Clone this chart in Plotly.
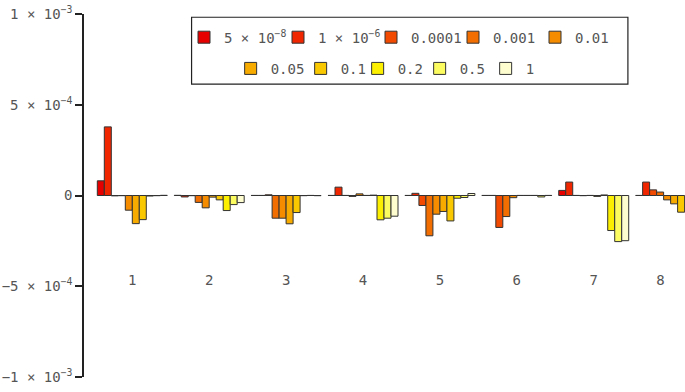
import plotly.graph_objects as go

# ---- data ----
groups = [1, 2, 3, 4, 5, 6, 7, 8]
group_labels = ["1", "2", "3", "4", "5", "6", "7", "8"]

series_names = ["5 × 10<sup>−8</sup>", "1 × 10<sup>−6</sup>", "0.0001", "0.001", "0.01",
                "0.05", "0.1", "0.2", "0.5", "1"]

s_5e8 = [8.1e-5, 1e-6, 0.5e-6, 0.5e-6, 0.5e-6, 0.5e-6, 2.8e-5, 0.5e-6]
s_1e6 = [3.78e-4, -8e-6, 0.5e-6, 4.6e-5, 1.2e-5, 0.5e-6, 7.4e-5, 7.4e-5]
s_1e4 = [-2e-6, -1e-6, 4e-6, 0.5e-6, -5.5e-5, -1.76e-4, 0.5e-6, 3.1e-5]
s_1e3 = [-1e-6, -3.8e-5, -1.25e-4, -5e-6, -2.22e-4, -1.16e-4, -1e-6, 1.9e-5]
s_1e2 = [-8.1e-5, -6.8e-5, -1.25e-4, 9e-6, -1.03e-4, -1.2e-5, 0.5e-6, -2.4e-5]
s_5e2 = [-1.55e-4, -9e-6, -1.56e-4, 0.5e-6, -8.8e-5, 0.5e-6, -5e-6, -4.6e-5]
s_1e1 = [-1.33e-4, -2.4e-5, -9.4e-5, 2e-6, -1.4e-4, 0.5e-6, 3e-6, -9.2e-5]
s_2e1 = [-3e-6, -8.3e-5, -1e-6, -1.34e-4, -1.5e-5, 0.5e-6, -1.93e-4, None]
s_5e1 = [-1e-6, -5e-5, 0.5e-6, -1.25e-4, -1.1e-5, -8e-6, -2.54e-4, None]
s_1 = [1e-6, -3.9e-5, -1e-6, -1.14e-4, 1.1e-5, 0.5e-6, -2.49e-4, None]

series_values = [s_5e8, s_1e6, s_1e4, s_1e3, s_1e2, s_5e2, s_1e1, s_2e1, s_5e1, s_1]

y_tick_vals = [-1e-3, -5e-4, 0, 5e-4, 1e-3]
y_tick_text = ["−1 × 10<sup>−3</sup>", "−5 × 10<sup>−4</sup>", "0",
               "5 × 10<sup>−4</sup>", "1 × 10<sup>−3</sup>"]

# ---- styling ----
colors = ['#e60000', '#f02600', '#f24a00', '#f26e00', '#f58c00',
          '#f7aa00', '#fac800', '#fcf000', '#fcfc60', '#fdfdd0']
legend_widths = [49, 48, 37, 37, 30, 25, 12, 17, 21, 10]
FONT = "DejaVu Sans Mono"
FS = 14

# label positions: last label pulled inside the clipped plot edge
x_range = [0.372, 8.187]
label_pos = [min(g, x_range[1] - 0.32) for g in groups]

fig = go.Figure()
for i, (name, vals, col) in enumerate(zip(series_names, series_values, colors)):
    fig.add_bar(
        x=groups, y=vals, name=name,
        marker=dict(color=col, line=dict(color='#333333', width=1)),
        legend='legend' if i < 5 else 'legend2',
        legendwidth=legend_widths[i],
    )

fig.update_layout(
    width=685, height=392,
    margin=dict(l=84, r=0, t=14, b=15, autoexpand=False),
    paper_bgcolor='white', plot_bgcolor='white',
    barmode='group', bargap=0.09, bargroupgap=0,
    font=dict(family=FONT, size=FS, color='#555555'),
    xaxis=dict(
        range=x_range, anchor='free', position=0.296, automargin=False,
        tickvals=label_pos, ticktext=group_labels,
        showline=False, showgrid=False, zeroline=False, ticks='',
        tickfont=dict(family=FONT, size=FS, color='#555555'),
    ),
    yaxis=dict(
        range=[-1e-3, 1e-3], tickvals=y_tick_vals, ticktext=y_tick_text,
        automargin=False,
        showline=True, linecolor='#222222', linewidth=1.5,
        ticks='outside', ticklen=7, tickcolor='#222222', tickwidth=1.5,
        showgrid=False, zeroline=False,
        tickfont=dict(family=FONT, size=FS, color='#555555'),
    ),
    legend=dict(
        orientation='h', x=0.1664, xanchor='left', y=0.935, yanchor='middle',
        bgcolor='rgba(0,0,0,0)', borderwidth=0,
        font=dict(family=FONT, size=FS, color='#555555'),
    ),
    legend2=dict(
        orientation='h', x=0.244, xanchor='left', y=0.849, yanchor='middle',
        bgcolor='rgba(0,0,0,0)', borderwidth=0,
        font=dict(family=FONT, size=FS, color='#555555'),
    ),
    shapes=[dict(type='rect', xref='paper', yref='paper',
                 x0=0.179, x1=0.905, y0=0.807, y1=0.991,
                 line=dict(color='#222222', width=1.2), fillcolor='rgba(0,0,0,0)')],
    showlegend=True,
)

fig.write_html("out.html",
               config={'displayModeBar': False},
               post_script="document.body.style.margin='0';document.body.style.padding='0';")
